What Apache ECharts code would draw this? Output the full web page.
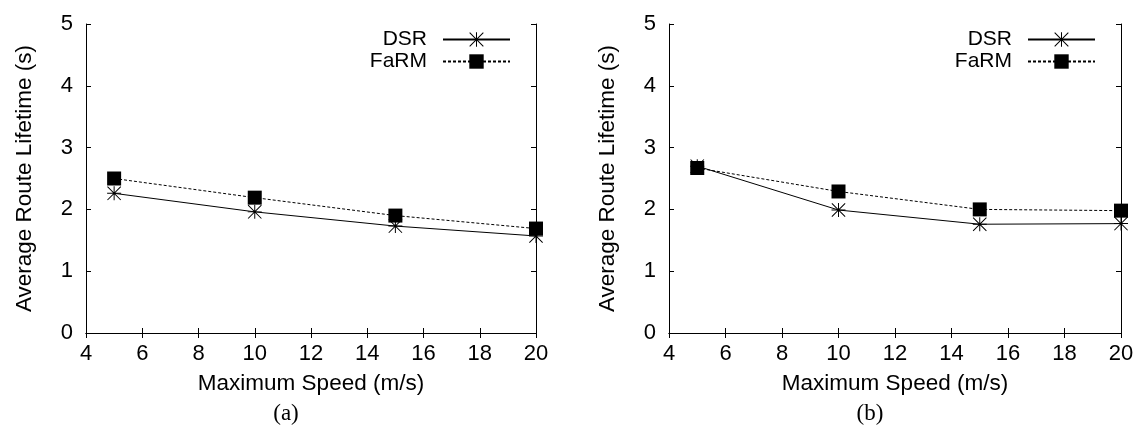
<!DOCTYPE html>
<html>
<head>
<meta charset="utf-8">
<script src="https://cdn.jsdelivr.net/npm/echarts@6/dist/echarts.min.js"></script>
<style>
html,body{margin:0;padding:0;background:#fff;}
#chart{width:1139px;height:441px;}
</style>
</head>
<body>
<div id="chart"></div>
<script>
const speeds = [5, 10, 15, 20];
const dsrA = [2.26, 1.96, 1.73, 1.57];
const farmA = [2.50, 2.19, 1.90, 1.69];
const dsrB = [2.70, 1.99, 1.76, 1.77];
const farmB = [2.67, 2.29, 2.00, 1.98];
const seriesNames = ['DSR', 'FaRM'];
const captions = ['(a)', '(b)'];
const xTitle = 'Maximum Speed (m/s)';
const yTitle = 'Average Route Lifetime (s)';

const STAR = 'path://M9.3 0 L10.7 0 L10.7 20 L9.3 20 Z M0 9.3 L20 9.3 L20 10.7 L0 10.7 Z M0 1 L1 0 L20 19 L19 20 Z M19 0 L20 1 L1 20 L0 19 Z';
const FONT = 'Liberation Sans, Arial, Helvetica, sans-serif';

const pairs = (ys) => speeds.map((x, i) => [x, ys[i]]);

const grids = [
  {left: 86, top: 24, width: 450, height: 309},
  {left: 669, top: 24, width: 452, height: 309}
];

const xAxes = [], yAxes = [];
grids.forEach((g, gi) => {
  xAxes.push({
    type: 'value', gridIndex: gi, position: 'bottom', min: 4, max: 20, interval: 2,
    name: xTitle, nameLocation: 'middle', nameGap: 39,
    nameTextStyle: {fontFamily: FONT, fontSize: 22.5, color: '#000'},
    axisLine: {show: true, lineStyle: {color: '#000', width: 1}},
    axisTick: {show: true, inside: true, length: 5, lineStyle: {color: '#000'}},
    axisLabel: {fontFamily: FONT, fontSize: 22, color: '#000', margin: 10},
    splitLine: {show: false}
  });
  xAxes.push({
    type: 'value', gridIndex: gi, position: 'top', min: 4, max: 20, interval: 2,
    axisLine: {show: true, lineStyle: {color: '#000', width: 1}},
    axisTick: {show: true, inside: true, length: 5, lineStyle: {color: '#000'}},
    axisLabel: {show: false}, splitLine: {show: false}
  });
  yAxes.push({
    type: 'value', gridIndex: gi, position: 'left', min: 0, max: 5, interval: 1,
    name: yTitle, nameLocation: 'middle', nameGap: 50, nameRotate: 90,
    nameTextStyle: {fontFamily: FONT, fontSize: 22.5, color: '#000'},
    axisLine: {show: true, lineStyle: {color: '#000', width: 1}},
    axisTick: {show: true, inside: true, length: 5, lineStyle: {color: '#000'}},
    axisLabel: {fontFamily: FONT, fontSize: 22, color: '#000', margin: 13},
    splitLine: {show: false}
  });
  yAxes.push({
    type: 'value', gridIndex: gi, position: 'right', min: 0, max: 5, interval: 1,
    axisLine: {show: true, lineStyle: {color: '#000', width: 1}},
    axisTick: {show: true, inside: true, length: 5, lineStyle: {color: '#000'}},
    axisLabel: {show: false}, splitLine: {show: false}
  });
});

const data = [[dsrA, farmA], [dsrB, farmB]];
const series = [];
data.forEach((pair, gi) => {
  series.push({
    name: seriesNames[0], type: 'line', xAxisIndex: gi * 2, yAxisIndex: gi * 2,
    data: pairs(pair[0]), symbol: STAR, symbolSize: 14, symbolKeepAspect: true,
    showAllSymbol: true, clip: false, z: 3,
    lineStyle: {color: '#000', width: 1, type: 'solid'},
    itemStyle: {color: '#000'}
  });
  series.push({
    name: seriesNames[1], type: 'line', xAxisIndex: gi * 2, yAxisIndex: gi * 2,
    data: pairs(pair[1]), symbol: 'rect', symbolSize: 14,
    showAllSymbol: true, clip: false, z: 4,
    lineStyle: {color: '#000', width: 1, type: [3, 2]},
    itemStyle: {color: '#000'}
  });
});

const legendBase = {
  orient: 'vertical', top: 29, align: 'right', padding: 0, itemGap: 1,
  itemWidth: 67, itemHeight: 18, data: seriesNames,
  textStyle: {fontFamily: FONT, fontSize: 21, color: '#000', padding: [0, 11, 0, 0]}
};

const option = {
  backgroundColor: '#fff',
  animation: false,
  grid: grids,
  xAxis: xAxes,
  yAxis: yAxes,
  series: series,
  legend: [
    Object.assign({}, legendBase, {right: 628}),
    Object.assign({}, legendBase, {right: 43})
  ],
  title: [
    {text: captions[0], left: 281, top: 397, textAlign: 'center',
     textStyle: {fontFamily: 'Liberation Serif, Times New Roman, serif', fontSize: 23, fontWeight: 'normal', color: '#000'}},
    {text: captions[1], left: 865, top: 397, textAlign: 'center',
     textStyle: {fontFamily: 'Liberation Serif, Times New Roman, serif', fontSize: 23, fontWeight: 'normal', color: '#000'}}
  ]
};

const chart = echarts.init(document.getElementById('chart'), null, {renderer: 'canvas'});
chart.setOption(option);
</script>
</body>
</html>
